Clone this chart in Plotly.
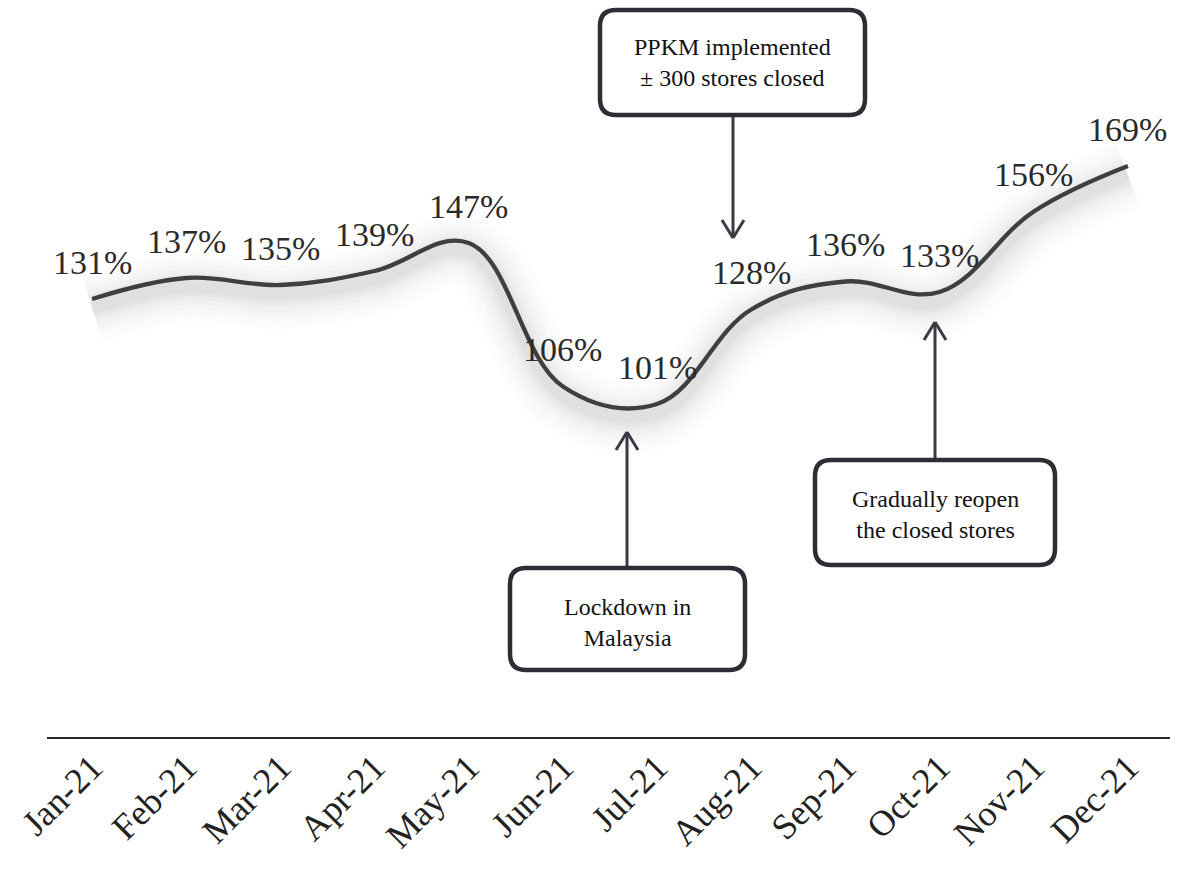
import plotly.graph_objects as go

months = ["Jan-21", "Feb-21", "Mar-21", "Apr-21", "May-21", "Jun-21",
          "Jul-21", "Aug-21", "Sep-21", "Oct-21", "Nov-21", "Dec-21"]
values = [131, 137, 135, 139, 147, 106, 101, 128, 136, 133, 156, 169]
labels = [f"{v}%" for v in values]

W, H = 1178, 880
ML, MR, MT, MB = 45, 3, 0, 142
PW, PH = W - ML - MR, H - MT - MB
YMIN, YMAX = 5.57, 216.43
xs = list(range(len(months)))

def px(X):
    return (X - ML) / PW

def py(Y):
    return 1 - (Y - MT) / PH

fig = go.Figure()

# soft blurred shadow under the line
shift = 2.6
for w, a in [(70, 0.010), (58, 0.012), (46, 0.014), (36, 0.016), (27, 0.020), (19, 0.022), (12, 0.025)]:
    fig.add_trace(go.Scatter(
        x=xs, y=[v - shift for v in values], mode="lines",
        line=dict(color=f"rgba(0,0,0,{a})", width=w, shape="spline", smoothing=1.1),
        hoverinfo="skip", showlegend=False))

fig.add_trace(go.Scatter(
    x=xs, y=values, mode="lines",
    line=dict(color="#3f3f3f", width=4.3, shape="spline", smoothing=1.1),
    showlegend=False))

shapes = []
annotations = []

# data labels
for xi, v, t in zip(xs, values, labels):
    annotations.append(dict(x=xi, y=v, xref="x", yref="y", text=t, showarrow=False,
                            xanchor="center", yanchor="middle", yshift=37,
                            font=dict(family="Liberation Serif", size=34, color="#2a2a2a")))

def rounded_box(x0, y0, x1, y1, r=16):
    X0, X1 = px(x0), px(x1)
    Y0, Y1 = py(y0), py(y1)
    rx, ry = r / PW, r / PH
    path = (f"M {X0+rx},{Y0} L {X1-rx},{Y0} Q {X1},{Y0} {X1},{Y0-ry} "
            f"L {X1},{Y1+ry} Q {X1},{Y1} {X1-rx},{Y1} "
            f"L {X0+rx},{Y1} Q {X0},{Y1} {X0},{Y1+ry} "
            f"L {X0},{Y0-ry} Q {X0},{Y0} {X0+rx},{Y0} Z")
    shapes.append(dict(type="path", xref="paper", yref="paper", path=path,
                       line=dict(color="#2c2e35", width=4.5), fillcolor="white", layer="above"))

def arrow(x, y_from, y_to):
    shapes.append(dict(type="line", xref="paper", yref="paper",
                       x0=px(x), x1=px(x), y0=py(y_from), y1=py(y_to),
                       line=dict(color="#3a3c44", width=3)))
    d = 18 if y_to > y_from else -18
    for dx in (-11, 11):
        shapes.append(dict(type="line", xref="paper", yref="paper",
                           x0=px(x + dx), x1=px(x), y0=py(y_to - d), y1=py(y_to),
                           line=dict(color="#3a3c44", width=3)))

def box_text(x, y, text):
    annotations.append(dict(xref="paper", yref="paper", x=px(x), y=py(y),
                            xanchor="center", yanchor="middle",
                            text=text, showarrow=False,
                            font=dict(family="Liberation Serif", size=24, color="#111111")))

# PPKM
arrow(733, 117, 238)
rounded_box(600, 10, 865, 115)
box_text(732, 63, "PPKM implemented<br>± 300 stores closed")
# Lockdown
arrow(627, 568, 432)
rounded_box(510, 568, 745, 670)
box_text(627, 622, "Lockdown in<br>Malaysia")
# Reopen
arrow(935, 460, 322)
rounded_box(815, 460, 1055, 565)
box_text(935, 514, "Gradually reopen<br>the closed stores")

# x axis line
shapes.append(dict(type="line", xref="paper", yref="paper",
                   x0=px(47), x1=px(1170), y0=py(738), y1=py(738),
                   line=dict(color="#262626", width=2)))

fig.update_layout(
    width=W, height=H, margin=dict(l=ML, r=MR, t=MT, b=MB),
    plot_bgcolor="white", paper_bgcolor="white",
    shapes=shapes, annotations=annotations, showlegend=False,
    xaxis=dict(range=[-0.5, 11.5], tickmode="array", tickvals=xs, ticktext=months,
               tickangle=-45, showgrid=False, zeroline=False, showline=False,
               ticks="",
               tickfont=dict(family="Liberation Serif", size=36, color="#222222")),
    yaxis=dict(range=[YMIN, YMAX], visible=False, showgrid=False, zeroline=False),
)

fig.write_html("out.html")
